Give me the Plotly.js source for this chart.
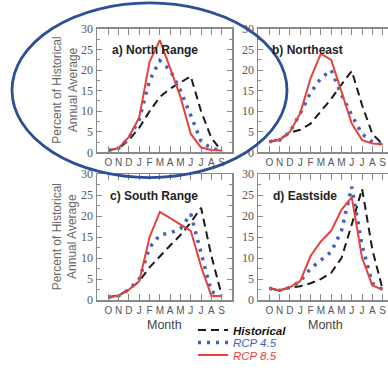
<!DOCTYPE html>
<html><head><meta charset="utf-8">
<script src="https://cdn.plot.ly/plotly-3.0.1.min.js"></script>
<style>html,body{margin:0;padding:0;overflow:hidden;background:#fff}#chart{width:400px;height:370px}</style>
</head><body><div id="chart"></div>
<script>
// Months from October to September
const months = ['O','N','D','J','F','M','A','M','J','J','A','S'];
const panelTitles = ['a) North Range','b) Northeast','c) South Range','d) Eastside'];
const seriesNames = ['Historical','RCP 4.5','RCP 8.5'];

// a) North Range
const histA  = [0.5, 1.0, 3.0, 6.0, 10.0, 13.5, 15.5, 17.0, 18.5, 10.0, 3.5, 0.3];
const rcp45A = [0.5, 1.0, 3.5, 8.0, 17.5, 22.3, 20.0, 15.0, 9.0, 2.7, 1.0, 0.5];
const rcp85A = [0.5, 1.1, 3.8, 8.5, 22.0, 27.3, 20.5, 13.5, 4.5, 1.2, 0.6, 0.5];
// b) Northeast
const histB  = [2.6, 3.2, 4.8, 5.5, 7.0, 10.0, 13.0, 16.5, 19.8, 11.5, 4.5, 2.0];
const rcp45B = [2.6, 3.0, 5.0, 9.5, 14.5, 18.0, 20.0, 14.0, 9.0, 4.5, 2.5, 2.0];
const rcp85B = [2.6, 3.0, 5.0, 9.5, 18.0, 24.0, 22.5, 14.5, 7.0, 3.0, 2.2, 2.0];
// c) South Range
const histC  = [0.7, 1.1, 2.5, 4.5, 7.8, 10.5, 13.0, 15.5, 18.5, 22.0, 10.5, 1.2];
const rcp45C = [0.7, 1.0, 2.5, 5.0, 12.5, 15.5, 16.0, 17.0, 20.5, 11.5, 2.0, 1.0];
const rcp85C = [0.7, 1.0, 2.5, 4.5, 15.0, 21.0, 19.5, 18.0, 16.5, 8.0, 1.0, 1.0];
// d) Eastside
const histD  = [2.8, 2.3, 3.0, 3.3, 4.0, 5.0, 6.5, 10.0, 18.0, 26.5, 12.0, 2.5];
const rcp45D = [2.8, 2.3, 3.0, 4.5, 7.5, 9.5, 11.5, 16.5, 27.0, 13.0, 4.0, 2.5];
const rcp85D = [2.8, 2.3, 3.1, 4.5, 10.5, 14.0, 16.5, 21.5, 24.5, 10.0, 3.5, 2.5];

const panels = [[histA, rcp45A, rcp85A],[histB, rcp45B, rcp85B],[histC, rcp45C, rcp85C],[histD, rcp45D, rcp85D]];
const xIdx = months.map((m, i) => i);

const W = 400, H = 370;
const px = v => v / W, py = v => 1 - v / H;

const styles = [
  {color:'#1a1a1a', width:2, dash:'8px,5px'},
  {color:'#3f63b8', width:3.5, dash:'3px,6px'},
  {color:'#e8403a', width:2, dash:'solid'}
];
const legendIds = ['legend','legend2','legend3'];
const legendNames = ['<b><i>Historical</i></b>','<i>RCP 4.5</i>','<i>RCP 8.5</i>'];

const traces = [];
panels.forEach((series, p) => {
  const sfx = p === 0 ? '' : String(p + 1);
  series.forEach((vals, s) => {
    traces.push({
      type:'scatter', mode:'lines', x:xIdx, y:vals,
      xaxis:'x' + sfx, yaxis:'y' + sfx,
      name: legendNames[s], line: styles[s],
      showlegend: p === 0, legend: legendIds[s],
      hoverinfo:'skip'
    });
  });
});

const axCol = '#8a8a8a';
function xax(dom, anchor){
  return {domain:dom, anchor:anchor, range:[-1.1,12], tickvals:xIdx, ticktext:months, tickangle:0,
    ticks:'inside', ticklen:6, tickwidth:1, tickcolor:axCol, showline:true, linecolor:axCol, linewidth:1.5,
    mirror:'ticks', showgrid:false, zeroline:false, fixedrange:true,
    tickfont:{family:'Liberation Sans, Arial, sans-serif', size:10, color:'#555'}};
}
function yax(dom, anchor){
  return {domain:dom, anchor:anchor, range:[0,30], tick0:0, dtick:5,
    ticks:'inside', ticklen:5, tickwidth:1, tickcolor:axCol, showline:true, linecolor:axCol, linewidth:1.5,
    mirror:'ticks', showgrid:false, zeroline:false, fixedrange:true,
    minor:{dtick:2.5, ticklen:3, tickcolor:axCol, ticks:'inside'},
    tickfont:{family:'Liberation Serif, Times New Roman, serif', size:12, color:'#555'}};
}
const xL = [px(97), px(232)], xR = [px(258), px(393)];
const yT = [py(158), py(30)], yB = [py(311), py(180.5)];

const sans = 'Liberation Sans, Arial, sans-serif';
const ann = [];
const titlePos = [[110,52],[270,52],[108,203],[271,203]];
panelTitles.forEach((t,i)=>ann.push({text:'<b>'+t+'</b>', xref:'paper', yref:'paper', x:px(titlePos[i][0]), y:py(titlePos[i][1]),
  xanchor:'left', yanchor:'middle', showarrow:false, font:{family:sans, size:12, color:'#222'}}));
[[94],[246]].forEach(c=>ann.push({text:'Percent of Historical<br>Annual Average', textangle:-90, xref:'paper', yref:'paper',
  x:px(65), y:py(c[0]), xanchor:'center', yanchor:'middle', showarrow:false, font:{family:sans, size:12, color:'#666'}}));
[164.5, 325.5].forEach(c=>ann.push({text:'Month', xref:'paper', yref:'paper', x:px(c), y:py(327), xanchor:'center', yanchor:'top',
  showarrow:false, font:{family:sans, size:12.5, color:'#444'}}));

function leg(ytop, color){
  return {x:px(193), y:py(ytop), xanchor:'left', yanchor:'top', bgcolor:'rgba(0,0,0,0)', borderwidth:0,
    font:{family:sans, size:11.5, color:color}, itemclick:false, itemdoubleclick:false};
}

const layout = {
  width:W, height:H, margin:{l:0,r:0,t:0,b:0}, paper_bgcolor:'#fff', plot_bgcolor:'#fff',
  xaxis:xax(xL,'y'), yaxis:yax(yT,'x'),
  xaxis2:xax(xR,'y2'), yaxis2:yax(yT,'x2'),
  xaxis3:xax(xL,'y3'), yaxis3:yax(yB,'x3'),
  xaxis4:xax(xR,'y4'), yaxis4:yax(yB,'x4'),
  legend:leg(327,'#111'), legend2:leg(340,'#3f63b8'), legend3:leg(353,'#e8403a'),
  annotations:ann,
  shapes:[{type:'circle', xref:'paper', yref:'paper', x0:px(12), x1:px(287), y0:py(184), y1:py(3),
    line:{color:'#2d4f96', width:2.8}}]
};
Plotly.newPlot('chart', traces, layout, {displayModeBar:false, staticPlot:true});
</script></body></html>
